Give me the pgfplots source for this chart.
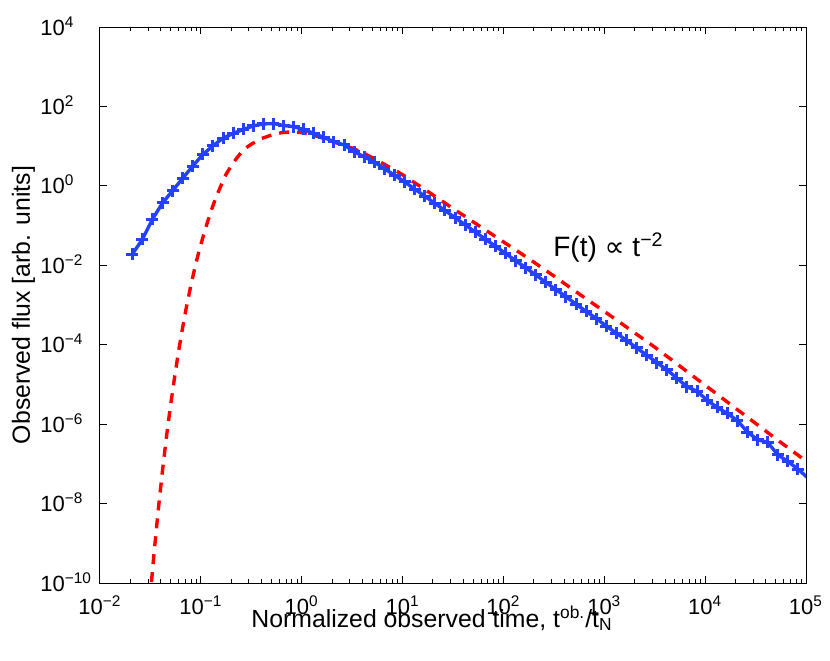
\documentclass[border=0pt]{standalone}
\usepackage{fontspec}
\setmainfont{Liberation Sans}
\newfontfamily\dejavu{DejaVu Sans}
\usepackage{pgfplots}
\usepackage{pgfplotstable}
\pgfplotsset{compat=1.18}

\definecolor{simblue}{RGB}{35,65,255}
\definecolor{modelred}{RGB}{255,0,0}

% simulated light curve (markers every 0.1 dex)
\pgfplotstableread{
t f
0.02089 0.01905
0.02630 0.04467
0.03311 0.1445
0.04169 0.3715
0.05248 0.7586
0.06607 1.549
0.08318 3.162
0.1047 6.166
0.1318 10.23
0.1660 15.85
0.2089 20.89
0.2630 26.30
0.3311 32.36
0.4169 36.31
0.5248 37.15
0.6607 33.11
0.8318 30.90
1.047 26.30
1.318 20.89
1.660 16.60
2.089 12.88
2.630 10.72
3.311 7.244
4.169 5.370
5.248 3.981
6.607 2.692
8.318 1.862
10.47 1.259
13.18 0.8318
16.60 0.5495
20.89 0.3631
26.30 0.2399
33.11 0.1585
41.69 0.1047
52.48 0.06918
66.07 0.04571
83.18 0.03020
104.7 0.01995
131.8 0.01318
166.0 8.710e-3
208.9 5.754e-3
263.0 3.715e-3
331.1 2.455e-3
416.9 1.622e-3
524.8 1.047e-3
660.7 6.918e-4
831.8 4.571e-4
1047 2.951e-4
1318 1.950e-4
1660 1.288e-4
2089 8.318e-5
2630 5.495e-5
3311 3.548e-5
4169 2.344e-5
5248 1.445e-5
6607 8.710e-6
8318 6.761e-6
10470 3.981e-6
13180 2.630e-6
16600 1.862e-6
20890 1.230e-6
26300 6.310e-7
33110 4.074e-7
41690 3.467e-7
52480 1.698e-7
66070 1.148e-7
83180 7.413e-8
}\simdata

% analytic curve
\pgfplotstableread{
t f
0.03020 1.318e-11
0.03162 5.370e-11
0.03467 7.244e-10
0.03802 7.943e-9
0.04169 6.918e-8
0.04571 5.012e-7
0.05012 3.020e-6
0.05495 1.549e-5
0.06026 7.079e-5
0.06607 2.754e-4
0.07244 9.772e-4
0.07943 3.020e-3
0.08710 8.511e-3
0.09550 0.02188
0.1047 0.05012
0.1148 0.1096
0.1259 0.2291
0.1413 0.5129
0.1585 1.023
0.1778 1.950
0.1995 3.162
0.2239 4.786
0.2512 6.918
0.2818 9.120
0.3162 11.22
0.3548 13.18
0.3981 15.49
0.5012 19.05
0.6310 21.88
0.7943 22.91
1.000 21.88
1.259 19.50
1.585 16.22
1.995 13.18
2.512 10.96
3.162 8.913
3.981 6.918
5.012 5.129
6.310 3.715
7.943 2.692
10.00 1.905
17.78 0.7244
31.62 0.2692
56.23 0.1023
100.0 0.03890
177.8 0.01479
316.2 5.370e-3
562.3 1.905e-3
1000 6.918e-4
1778 2.455e-4
3162 8.710e-5
5623 2.884e-5
10000 9.550e-6
17780 3.162e-6
31620 1.047e-6
56230 3.467e-7
100000 1.175e-7
}\modeldata

\begin{document}
\begin{tikzpicture}
\begin{axis}[
    name=ax,
    scale only axis,
    width=353pt,
    height=278pt,
    xmode=log,
    ymode=log,
    xmin=1e-2, xmax=1e5,
    ymin=1e-10, ymax=1e4,
    xtick={1e-2,1e-1,1,1e1,1e2,1e3,1e4,1e5},
    xticklabels={10\textsuperscript{−2},10\textsuperscript{−1},10\textsuperscript{0},10\textsuperscript{1},10\textsuperscript{2},10\textsuperscript{3},10\textsuperscript{4},10\textsuperscript{5}},
    minor xtick={0.02,0.03,0.04,0.05,0.06,0.07,0.08,0.09,0.2,0.3,0.4,0.5,0.6,0.7,0.8,0.9,2,3,4,5,6,7,8,9,20,30,40,50,60,70,80,90,200,300,400,500,600,700,800,900,2000,3000,4000,5000,6000,7000,8000,9000,20000,30000,40000,50000,60000,70000,80000,90000},
    ytick={1e-10,1e-8,1e-6,1e-4,1e-2,1,1e2,1e4},
    yticklabels={10\textsuperscript{−10},10\textsuperscript{−8},10\textsuperscript{−6},10\textsuperscript{−4},10\textsuperscript{−2},10\textsuperscript{0},10\textsuperscript{2},10\textsuperscript{4}},
    minor ytick={},
    major tick length=3.5pt,
    minor tick length=1.8pt,
    tick style={black, line width=0.5pt},
    axis line style={black, line width=0.5pt},
    tick label style={font=\fontsize{11}{13}\selectfont, inner sep=0pt},
    xticklabel style={anchor=base, yshift=-15.5pt},
    yticklabel style={anchor=base west, xshift=-30pt, yshift=-4pt},
    label style={font=\fontsize{12.4}{14}\selectfont, inner sep=0pt},
    xlabel={Normalized observed time, t\textsuperscript{ob.}/t\textsubscript{N}},
    xlabel style={at={(axis description cs:0.5,0)}, anchor=base, yshift=-22pt, xshift=-10.5pt},
    ylabel={Observed flux [arb. units]},
    ylabel style={at={(axis description cs:0,0.5)}, anchor=base, yshift=35pt},
]
\addplot[modelred, line width=1.7pt, dash pattern=on 5pt off 4pt] table {\modeldata};
\addplot[simblue, line width=1.7pt, line join=round, mark=+, mark size=3pt,
    mark options={solid, line width=1.5pt}] table {\simdata};
\addplot[simblue, line width=1.7pt, forget plot] coordinates {(83180,7.413e-8) (104700,4.365e-8)};
\node[anchor=base west, inner sep=0pt, font=\fontsize{14}{16}\selectfont]
    at (axis cs:310,0.0162) {F(t) {\dejavu ∝} t\textsuperscript{−2}};
\end{axis}
\pgfresetboundingbox
\path ([shift={(-50pt,-38.5pt)}]ax.south west) rectangle ([shift={(12pt,13.5pt)}]ax.north east);
\end{tikzpicture}
\end{document}
